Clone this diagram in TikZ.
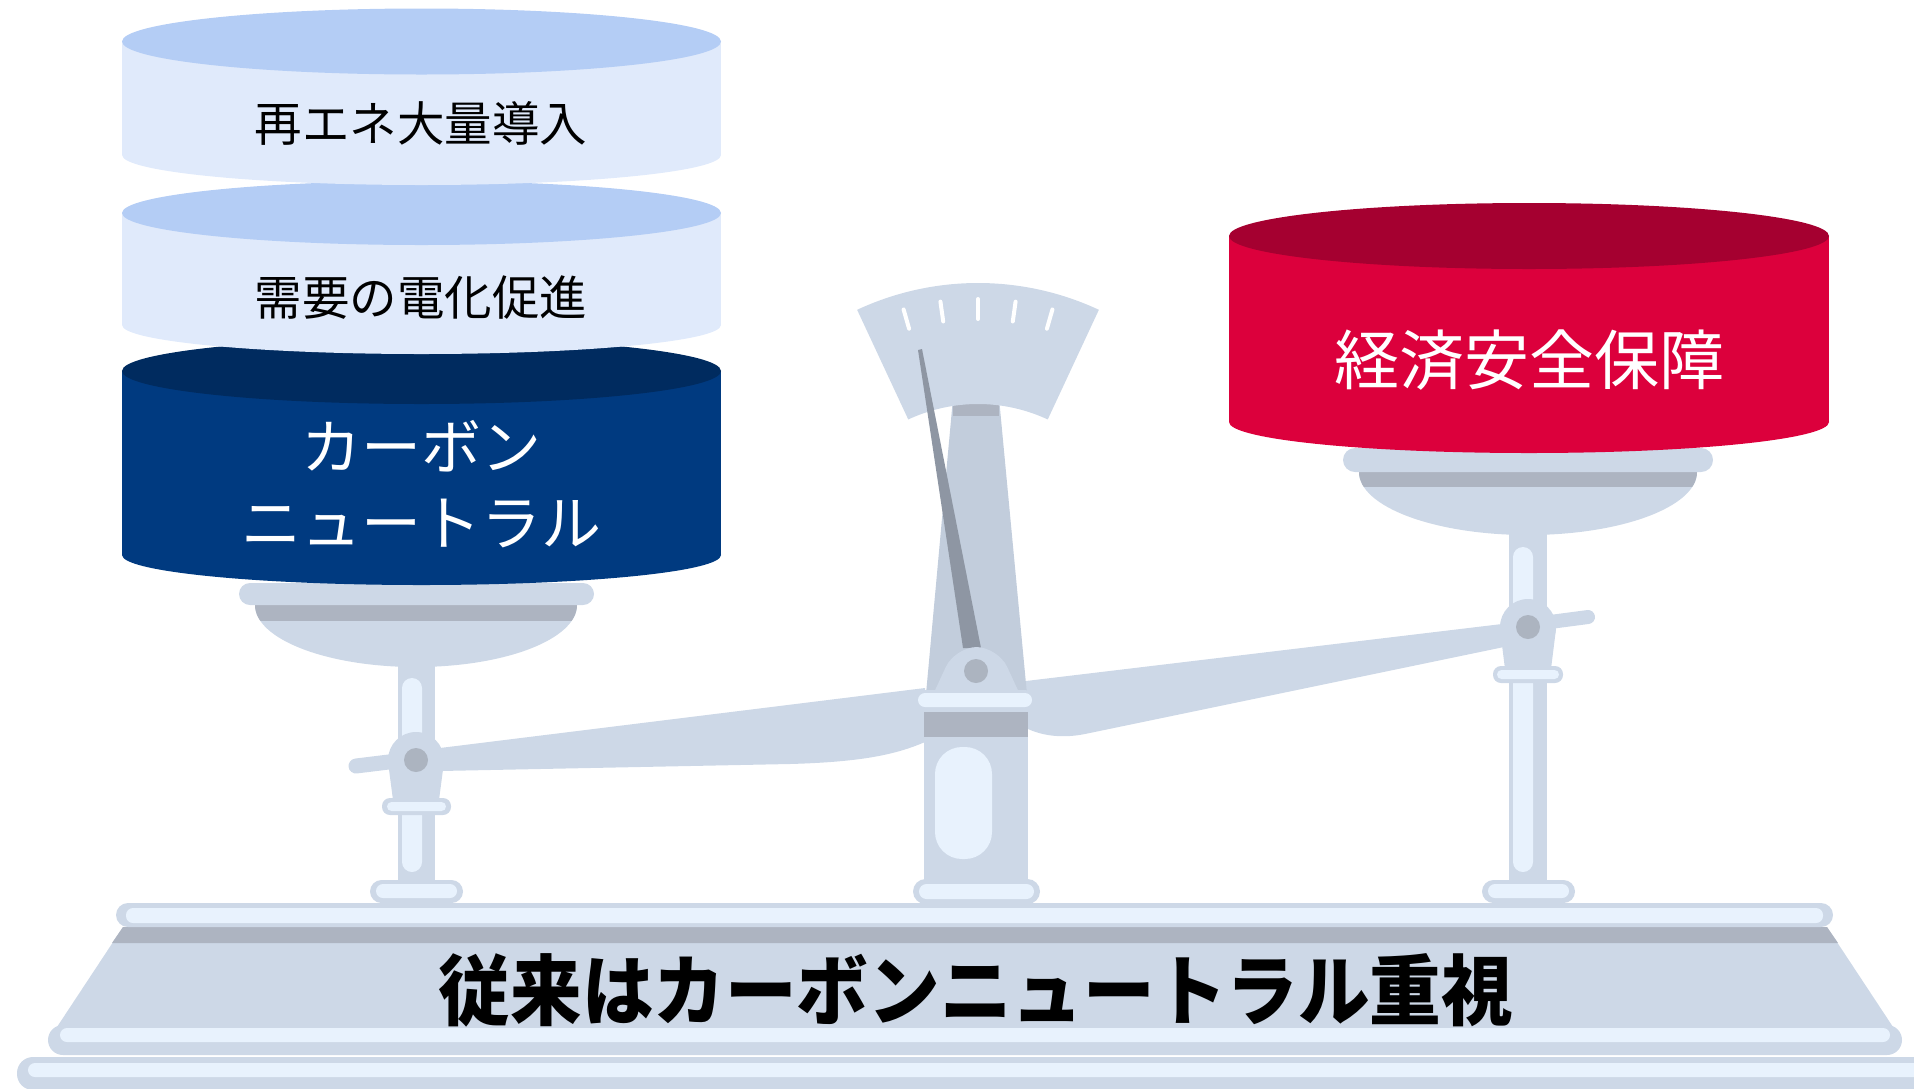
\documentclass[tikz,border=0pt]{standalone}
\usepackage{fontspec}
\newfontfamily\jpfont{Noto Sans CJK JP}
\usetikzlibrary{positioning}

\definecolor{metal}{HTML}{CDD8E7}
\definecolor{metalmid}{HTML}{C2CDDC}
\definecolor{metaldark}{HTML}{ADB4C1}
\definecolor{metalhi}{HTML}{E8F2FD}
\definecolor{needlegray}{HTML}{8E96A3}
\definecolor{pingray}{HTML}{ACB4C0}
\definecolor{skytop}{HTML}{B4CDF5}
\definecolor{skybody}{HTML}{E0EAFB}
\definecolor{navybody}{HTML}{003A80}
\definecolor{navytop}{HTML}{002B5F}
\definecolor{redbody}{HTML}{DC003C}
\definecolor{redtop}{HTML}{A50030}

\tikzset{
  drumtext/.style={font=\jpfont\fontsize{47.5}{47.5}\selectfont, inner sep=0pt, align=center},
  hilite/.style={fill=metalhi}
}

\begin{document}
\begin{tikzpicture}[x=1pt, y=-1pt]
    \useasboundingbox (0,0) rectangle (1914,1088);

    % Base
    \fill[metal] (123,927) -- (1827,927) -- (1895,1030) -- (55,1030) -- cycle; % body
    \fill[metaldark] (123,927) -- (1827,927) -- (1838,943) -- (112,943) -- cycle;
    \fill[metal, rounded corners=16pt] (17,1057) rectangle (1933,1090); % bottom rail
    \fill[hilite, rounded corners=7pt] (28,1063) rectangle (1922,1077);
    \fill[metal, rounded corners=15pt] (48,1025) rectangle (1902,1055); % middle rail
    \fill[hilite, rounded corners=7pt] (60,1028) rectangle (1890,1042);
    \fill[metal, rounded corners=12pt] (116,903) rectangle (1833,927); % top rail
    \fill[hilite, rounded corners=7pt] (126,908) rectangle (1823,923);

    % Side stems
    \fill[metal] (398,640) rectangle (435,885);
    \fill[hilite, rounded corners=10pt] (402,678) rectangle (422,872);
    \fill[metal] (1509,520) rectangle (1547,885);
    \fill[hilite, rounded corners=10pt] (1513,547) rectangle (1533,872);
    % feet
    \fill[metal, rounded corners=11.5pt] (370,880) rectangle (463,903);
    \fill[hilite, rounded corners=7pt] (376,884) rectangle (457,898);
    \fill[metal, rounded corners=11.5pt] (1482,880) rectangle (1575,903);
    \fill[hilite, rounded corners=7pt] (1488,884) rectangle (1569,898);

    % Beam
    \fill[metal] (440,748) -- (925,688) -- (925,742)
        .. controls (895,755) and (860,762) .. (790,764) -- (440,771) -- cycle;
    \fill[metal] (1026,681) -- (1502,624) -- (1504,647) -- (1085,734)
        .. controls (1060,739) and (1040,735) .. (1026,728) -- cycle;
    \draw[metal, line width=15pt, line cap=round] (356,766) -- (405,760);
    \draw[metal, line width=14pt, line cap=round] (1550,622) -- (1588,617);

    % Pivots
    \fill[metal] (416,760) circle (28);
    \fill[metal] (388,762) -- (444,762) -- (439,800) -- (393,800) -- cycle;
    \fill[pingray] (416,760) circle (12);
    \fill[metal, rounded corners=8pt] (382,798) rectangle (451,815);
    \fill[hilite, rounded corners=4.5pt] (387,802) rectangle (446,811);
    \fill[metal] (1528,627) circle (28);
    \fill[metal] (1500,629) -- (1556,629) -- (1551,669) -- (1505,669) -- cycle;
    \fill[pingray] (1528,627) circle (12);
    \fill[metal, rounded corners=8pt] (1493,666) rectangle (1563,683);
    \fill[hilite, rounded corners=4.5pt] (1497,670) rectangle (1559,679);

    % Pans
    \begin{scope}
        \clip (200,605) rectangle (650,700);
        \clip (416,605) ellipse [x radius=161, y radius=62];
        \fill[metal] (200,605) rectangle (650,700);
        \fill[metaldark] (200,605) rectangle (650,621);
    \end{scope}
    \fill[metal, rounded corners=11pt] (239,583) rectangle (594,605);
    \begin{scope}
        \clip (1300,472) rectangle (1760,560);
        \clip (1528,472) ellipse [x radius=169, y radius=63];
        \fill[metal] (1300,472) rectangle (1760,560);
        \fill[metaldark] (1300,472) rectangle (1760,487);
    \end{scope}
    \fill[metal, rounded corners=12pt] (1343,448) rectangle (1713,472);

    % Centre column and dial
    \fill[metalmid] (953,398) -- (999,398) -- (1028,705) -- (925,705) -- cycle;
    \fill[metaldark] (953,398) rectangle (999,416);
    \begin{scope}[shift={(978,569)}]
        \fill[metal] (-115:286) arc[start angle=-115, end angle=-65, radius=286]
            -- (-65:165) arc[start angle=-65, end angle=-115, radius=165] -- cycle;
        \foreach \a in {-106,-98,-90,-82,-74}
            \draw[white, line width=4pt, line cap=round] (\a:250) -- (\a:270);
    \end{scope}
    \fill[needlegray] (918,350) -- (922,349) -- (981,648) -- (963,648) -- cycle;
    \fill[metal, rounded corners=22pt] (925,712) -- (955,647) -- (998,647) -- (1028,712) -- cycle;
    \fill[pingray] (976,671) circle (12);
    \fill[metal] (924,705) rectangle (1028,890);
    \fill[metaldark] (924,712) rectangle (1028,737);
    \fill[hilite, rounded corners=27pt] (935,747) rectangle (992,859);
    \fill[metal, rounded corners=10pt] (915,690) rectangle (1035,710);
    \fill[hilite, rounded corners=7pt] (918,693) rectangle (1032,707);
    \fill[metal, rounded corners=12.5pt] (913,879) rectangle (1040,904);
    \fill[hilite, rounded corners=7.5pt] (919,884) rectangle (1034,899);

    % Left stack of drums
    \fill[navybody] (122,371) rectangle (721,555);
    \fill[navybody] (421.5,555) ellipse [x radius=299.5, y radius=30];
    \fill[navytop] (421.5,371) ellipse [x radius=299.5, y radius=33];
    \fill[skybody] (122,213) rectangle (721,325);
    \fill[skybody] (421.5,325) ellipse [x radius=299.5, y radius=29];
    \fill[skytop] (421.5,213) ellipse [x radius=299.5, y radius=32];
    \fill[skybody] (122,41.5) rectangle (721,155);
    \fill[skybody] (421.5,155) ellipse [x radius=299.5, y radius=30];
    \fill[skytop] (421.5,41.5) ellipse [x radius=299.5, y radius=33];

    \node[drumtext] (renew) at (421,123) {再エネ大量導入};
    \node[drumtext] (electrify) at (421,298) {需要の電化促進};
    \node[drumtext, text=white, font=\jpfont\fontsize{60}{76}\selectfont] (neutral) at (421,484)
        {カーボン\\ニュートラル};

    % Right drum
    \fill[redbody] (1229,236) rectangle (1829,422);
    \fill[redbody] (1529,422) ellipse [x radius=300, y radius=31];
    \fill[redtop] (1529,236) ellipse [x radius=300, y radius=33];
    \node[drumtext, text=white, font=\jpfont\fontsize{65}{65}\selectfont] (security) at (1529,360)
        {経済安全保障};

    \node[inner sep=0pt, font=\jpfont\bfseries\fontsize{77}{77}\selectfont] (motto) at (976,990)
        {\scalebox{0.93}[1]{従来はカーボンニュートラル重視}};
\end{tikzpicture}
\end{document}
